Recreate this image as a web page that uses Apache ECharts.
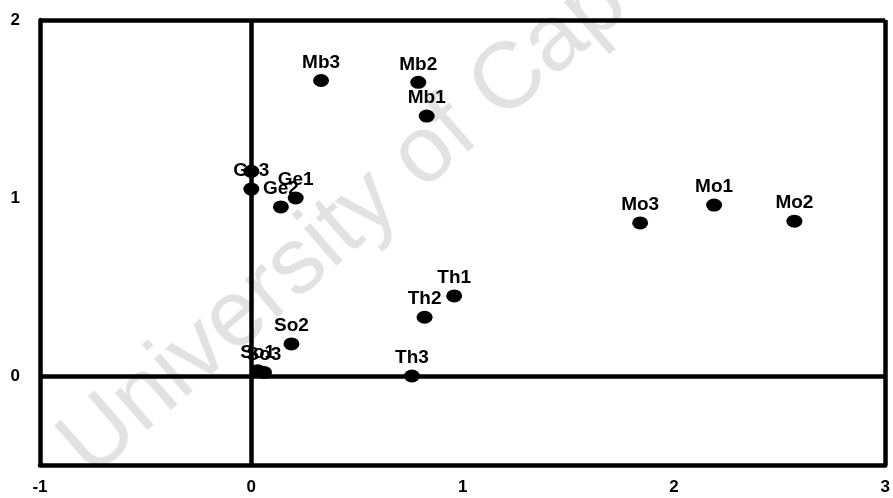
<!DOCTYPE html>
<html>
<head>
<meta charset="utf-8">
<script src="https://cdn.jsdelivr.net/npm/echarts@6/dist/echarts.min.js"></script>
<style>
html,body{margin:0;padding:0;background:#fff;}
#chart{width:893px;height:498px;}
</style>
</head>
<body>
<div id="chart"></div>
<script>
// ---- data ----
const names = ['Mb3','Mb2','Mb1','Ge3','Ge1','Ge2','','So2','So1','So3','Th1','Th2','Th3','Mo3','Mo1','Mo2'];
const xValues = [0.33, 0.79, 0.83, 0.00, 0.21, 0.14, 0.00, 0.19, 0.03, 0.06, 0.96, 0.82, 0.76, 1.84, 2.19, 2.57];
const yValues = [1.66, 1.65, 1.46, 1.05, 1.00, 0.95, 1.15, 0.18, 0.03, 0.02, 0.45, 0.33, 0.00, 0.86, 0.96, 0.87];
const xTicks = [-1, 0, 1, 2, 3];
const yTicks = [0, 1, 2];

// label nudges (style only)
const labelShift = {Ge3:[-9,0], Ge1:[2,2], Ge2:[-1,0], Th1:[-4,0], Th2:[-9,0], Mo3:[-8,0], So1:[-4,0], So3:[0,0]};

const chart = echarts.init(document.getElementById('chart'), null, {renderer:'canvas'});
const font = '"Liberation Sans", Arial, sans-serif';

const data = names.map((n, i) => {
  const d = {name: n, value: [xValues[i], yValues[i]]};
  if (labelShift[n]) d.label = {offset: labelShift[n]};
  return d;
});

const frameLine = {color: '#000', width: 4.5, type: 'solid', opacity: 1};

chart.setOption({
  animation: false,
  backgroundColor: '#fff',
  graphic: [{
    type: 'text',
    z: -10,
    x: 105, y: 495,
    rotation: 41 * Math.PI / 180,
    silent: true,
    style: {
      text: 'University of Cape Town',
      font: '94px "Liberation Sans", Arial, sans-serif',
      fill: '#e2e2e2',
      textVerticalAlign: 'bottom'
    }
  }],
  grid: {left: 40, right: 5, top: 20, bottom: 33, show: false},
  xAxis: {
    type: 'value', min: -1, max: 3, interval: 1,
    axisLine: {show: true, onZero: false, lineStyle: frameLine},
    axisTick: {show: false},
    splitLine: {show: false},
    axisLabel: {customValues: xTicks, color: '#000', fontFamily: font, fontSize: 17, fontWeight: 'bold', margin: 14}
  },
  yAxis: {
    type: 'value', min: -0.5, max: 2, interval: 0.5,
    axisLine: {show: true, onZero: false, lineStyle: frameLine},
    axisTick: {show: false},
    splitLine: {show: false},
    axisLabel: {customValues: yTicks, color: '#000', fontFamily: font, fontSize: 17, fontWeight: 'bold', margin: 20}
  },
  series: [{
    type: 'scatter',
    data: data,
    symbol: 'circle',
    symbolSize: [16, 13],
    itemStyle: {color: '#000', opacity: 1},
    label: {
      show: true,
      position: 'top',
      distance: 2,
      formatter: '{b}',
      color: '#000',
      fontFamily: font,
      fontSize: 19,
      fontWeight: 'bold'
    },
    labelLayout: {hideOverlap: false},
    markLine: {
      silent: true,
      symbol: 'none',
      label: {show: false},
      lineStyle: frameLine,
      data: [{xAxis: 0}, {yAxis: 0}]
    }
  }, {
    // top and right frame
    type: 'line',
    data: [],
    markLine: {
      silent: true,
      symbol: 'none',
      label: {show: false},
      lineStyle: frameLine,
      data: [{xAxis: 3}, {yAxis: 2}]
    }
  }]
});
</script>
</body>
</html>
